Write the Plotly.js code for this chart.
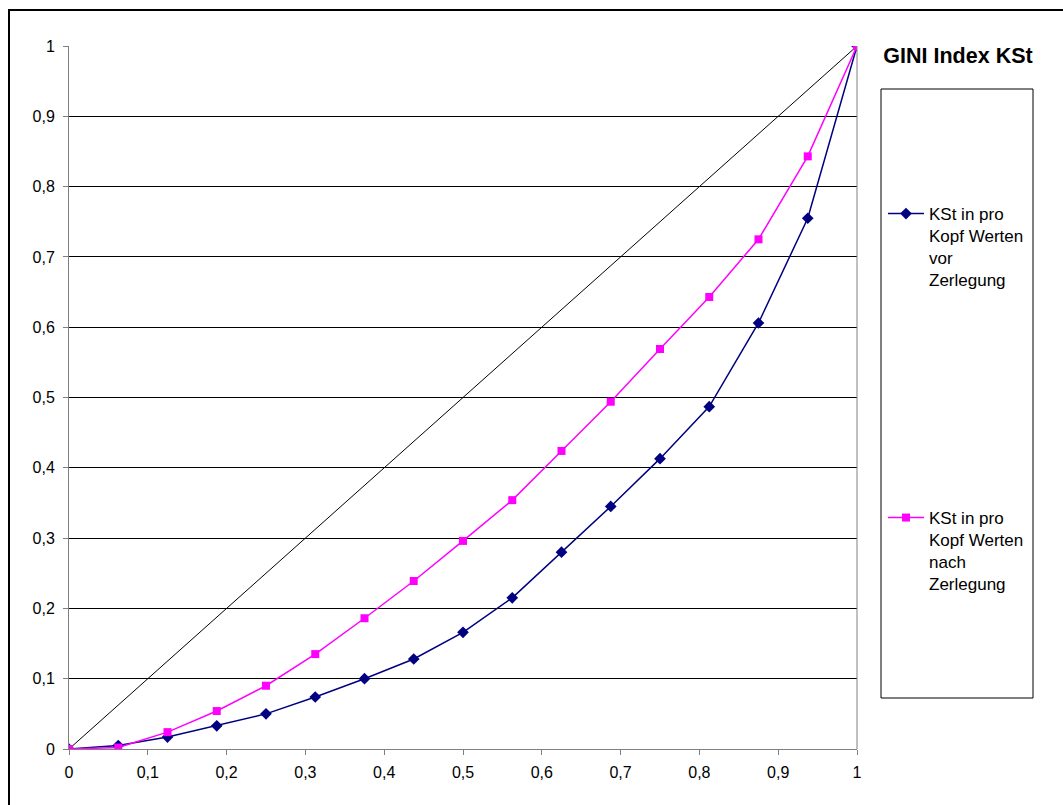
<!DOCTYPE html>
<html>
<head>
<meta charset="utf-8">
<script src="https://cdn.plot.ly/plotly-3.0.1.min.js"></script>
<style>
html,body{margin:0;padding:0;background:#fff;}
#frame{position:absolute;left:8px;top:9px;width:1100px;height:850px;border-left:2px solid #000;border-top:2px solid #000;}
#chart{position:absolute;left:0;top:0;width:1063px;height:805px;}
</style>
</head>
<body>
<div id="frame"></div>
<div id="chart"></div>
<script>
var xShares = [0, 0.0625, 0.125, 0.1875, 0.25, 0.3125, 0.375, 0.4375, 0.5, 0.5625, 0.625, 0.6875, 0.75, 0.8125, 0.875, 0.9375, 1];
var vorZerlegung = [0, 0.005, 0.017, 0.033, 0.05, 0.074, 0.1, 0.128, 0.166, 0.215, 0.28, 0.345, 0.413, 0.487, 0.606, 0.755, 1];
var nachZerlegung = [0, 0.002, 0.024, 0.054, 0.09, 0.135, 0.186, 0.239, 0.296, 0.354, 0.424, 0.494, 0.569, 0.643, 0.725, 0.843, 1];
var diagX = [0, 1];
var diagY = [0, 1];
var seriesNames = ["KSt in pro<br>Kopf Werten<br>vor<br>Zerlegung", "KSt in pro<br>Kopf Werten<br>nach<br>Zerlegung"];
var tickVals = [0, 0.1, 0.2, 0.3, 0.4, 0.5, 0.6, 0.7, 0.8, 0.9, 1];
var chartTitle = "GINI Index KSt";

var traces = [
  {x: diagX, y: diagY, mode: 'lines', line: {color: '#000000', width: 1}, showlegend: false, hoverinfo: 'skip'},
  {x: xShares, y: vorZerlegung, mode: 'lines+markers', name: seriesNames[0], legend: 'legend',
   line: {color: '#000080', width: 1.5}, marker: {symbol: 'diamond', size: 9, color: '#000080'}},
  {x: xShares, y: nachZerlegung, mode: 'lines+markers', name: seriesNames[1], legend: 'legend2',
   line: {color: '#FF00FF', width: 1.5}, marker: {symbol: 'square', size: 8, color: '#FF00FF'}}
];

var axisCommon = {
  range: [0, 1], tickvals: tickVals, ticks: 'outside', ticklen: 5, tickcolor: '#808080',
  showline: true, linecolor: '#808080', linewidth: 1, zeroline: false,
  tickfont: {family: 'Liberation Sans, Arial, sans-serif', size: 16, color: '#000'}
};

var legendCommon = {
  xref: 'paper', yref: 'paper', xanchor: 'left', yanchor: 'top',
  bgcolor: 'rgba(0,0,0,0)', borderwidth: 0, valign: 'top',
  font: {family: 'Liberation Sans, Arial, sans-serif', size: 17, color: '#000'},
  itemwidth: 36, tracegroupgap: 0
};

var layout = {
  width: 1063, height: 805,
  margin: {l: 69, r: 206, t: 46, b: 56},
  paper_bgcolor: 'rgba(0,0,0,0)', plot_bgcolor: '#fff',
  separators: ', ',
  title: {text: '<b>' + chartTitle + '</b>', x: 958/1063, xanchor: 'center', y: 1 - 55/805, yanchor: 'middle',
          font: {family: 'Liberation Sans, Arial, sans-serif', size: 21.5, color: '#000'}},
  xaxis: Object.assign({}, axisCommon, {showgrid: false, mirror: false, ticklabelstandoff: 4}),
  yaxis: Object.assign({}, axisCommon, {showgrid: true, gridcolor: '#000', gridwidth: 1, ticklabelstandoff: 5}),
  showlegend: true,
  legend: Object.assign({}, legendCommon, {x: (883-69)/788, y: 1 - (196-46)/703}),
  legend2: Object.assign({}, legendCommon, {x: (883-69)/788, y: 1 - (500-46)/703}),
  shapes: [
    {type: 'rect', xref: 'paper', yref: 'paper', x0: (881-69)/788, x1: (1033-69)/788,
     y0: (749-698)/703, y1: (749-89)/703, line: {color: '#000', width: 1}, fillcolor: 'rgba(0,0,0,0)'},
    {type: 'line', xref: 'paper', yref: 'paper', x0: 1, x1: 1, y0: 0, y1: 1, line: {color: '#808080', width: 1}}
  ]
};

Plotly.newPlot('chart', traces, layout, {displayModeBar: false, staticPlot: true});
</script>
</body>
</html>
